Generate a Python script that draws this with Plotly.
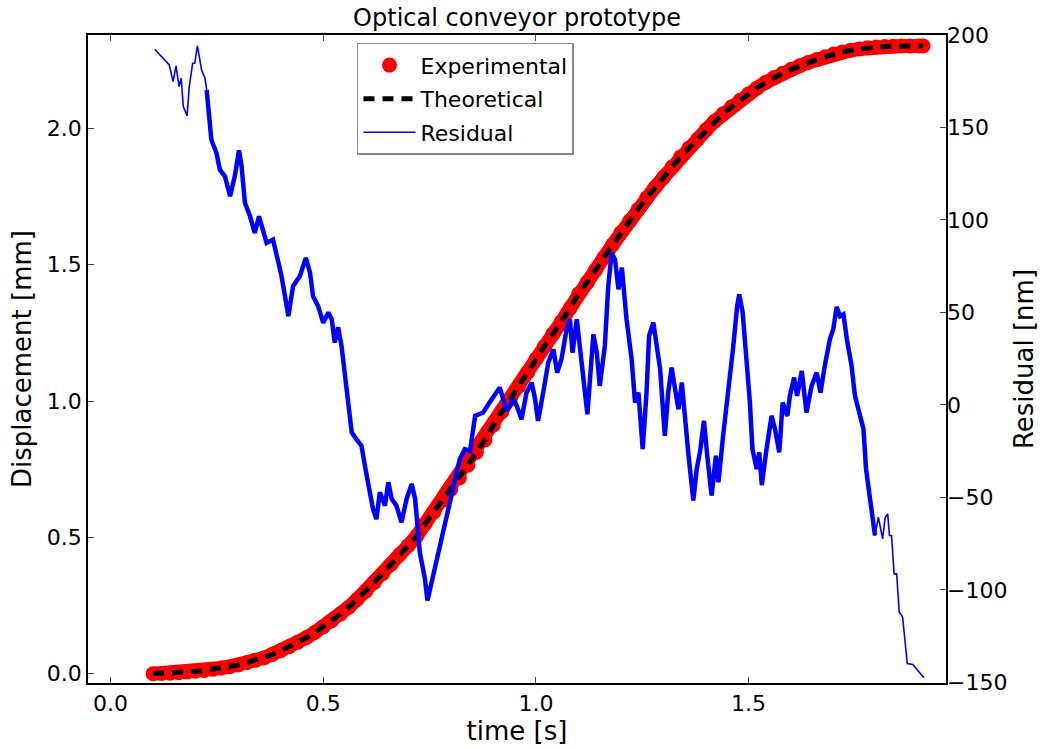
import numpy as np
import plotly.graph_objects as go

# ---- data ----
time_s = [0.10, 0.12, 0.14, 0.16, 0.18, 0.20, 0.22, 0.24, 0.26, 0.28,
          0.30, 0.32, 0.34, 0.36, 0.38, 0.40, 0.42, 0.44, 0.46, 0.48,
          0.50, 0.52, 0.54, 0.56, 0.58, 0.60, 0.62, 0.64, 0.66, 0.68,
          0.70, 0.72, 0.74, 0.76, 0.78, 0.80, 0.82, 0.84, 0.86, 0.88,
          0.90, 0.92, 0.94, 0.96, 0.98, 1.00, 1.02, 1.04, 1.06, 1.08,
          1.10, 1.12, 1.14, 1.16, 1.18, 1.20, 1.22, 1.24, 1.26, 1.28,
          1.30, 1.32, 1.34, 1.36, 1.38, 1.40, 1.42, 1.44, 1.46, 1.48,
          1.50, 1.52, 1.54, 1.56, 1.58, 1.60, 1.62, 1.64, 1.66, 1.68,
          1.70, 1.72, 1.74, 1.76, 1.78, 1.80, 1.82, 1.84, 1.86, 1.88,
          1.90, 1.91]
experimental_mm = [0.000, 0.001, 0.002, 0.004, 0.006, 0.009, 0.012, 0.016, 0.021, 0.026,
                   0.032, 0.040, 0.049, 0.058, 0.071, 0.084, 0.099, 0.115, 0.132, 0.151,
                   0.172, 0.194, 0.218, 0.244, 0.273, 0.303, 0.335, 0.368, 0.402, 0.437,
                   0.470, 0.505, 0.551, 0.593, 0.635, 0.676, 0.718, 0.765, 0.811, 0.857,
                   0.912, 0.961, 1.007, 1.055, 1.104, 1.153, 1.200, 1.246, 1.291, 1.340,
                   1.392, 1.434, 1.480, 1.527, 1.573, 1.618, 1.660, 1.703, 1.744, 1.783,
                   1.820, 1.858, 1.895, 1.928, 1.960, 1.994, 2.026, 2.053, 2.079, 2.103,
                   2.126, 2.148, 2.168, 2.186, 2.202, 2.216, 2.229, 2.241, 2.252, 2.262,
                   2.272, 2.280, 2.286, 2.291, 2.295, 2.298, 2.300, 2.301, 2.302, 2.302,
                   2.302, 2.302]
theoretical_mm = list(experimental_mm)

resid_t = [0.104, 0.138, 0.147, 0.154, 0.161, 0.166, 0.171, 0.180, 0.185, 0.193,
           0.198, 0.204, 0.208, 0.214, 0.222, 0.226, 0.232, 0.237, 0.249, 0.257,
           0.269, 0.281, 0.292, 0.302, 0.308, 0.316, 0.328, 0.339, 0.349, 0.359,
           0.367, 0.382, 0.390, 0.402, 0.418, 0.429, 0.445, 0.459, 0.469, 0.476,
           0.488, 0.500, 0.512, 0.520, 0.527, 0.535, 0.543, 0.551, 0.559, 0.567,
           0.578, 0.590, 0.598, 0.606, 0.617, 0.625, 0.633, 0.645, 0.653, 0.661,
           0.672, 0.684, 0.696, 0.708, 0.716, 0.727, 0.739, 0.745, 0.755, 0.767,
           0.782, 0.798, 0.814, 0.821, 0.833, 0.845, 0.857, 0.876, 0.891, 0.907,
           0.915, 0.931, 0.947, 0.955, 0.966, 0.978, 0.990, 0.998, 1.005, 1.017,
           1.029, 1.041, 1.050, 1.060, 1.072, 1.080, 1.086, 1.096, 1.107, 1.121,
           1.135, 1.143, 1.150, 1.162, 1.170, 1.178, 1.186, 1.194, 1.202, 1.213,
           1.225, 1.233, 1.241, 1.251, 1.260, 1.266, 1.276, 1.284, 1.292, 1.303,
           1.311, 1.319, 1.327, 1.335, 1.343, 1.350, 1.358, 1.370, 1.378, 1.386,
           1.395, 1.403, 1.413, 1.423, 1.429, 1.440, 1.452, 1.464, 1.473, 1.478,
           1.486, 1.495, 1.503, 1.509, 1.519, 1.525, 1.531, 1.542, 1.554, 1.562,
           1.572, 1.580, 1.591, 1.597, 1.607, 1.614, 1.625, 1.636, 1.648, 1.660,
           1.669, 1.679, 1.691, 1.699, 1.707, 1.715, 1.723, 1.731, 1.742, 1.750,
           1.760, 1.770, 1.776, 1.785, 1.792, 1.797, 1.805, 1.815, 1.821, 1.827,
           1.831, 1.836, 1.842, 1.848, 1.854, 1.862, 1.873, 1.886, 1.912]
resid_nm = [192.3, 183.8, 174.8, 183.3, 172.1, 176.6, 161.3, 156.3, 172.1, 184.7,
            184.7, 194.1, 189.2, 181.1, 176.6, 170.3, 154.2, 143.4, 136.2, 127.2,
            123.6, 112.8, 123.6, 137.6, 129.0, 109.2, 102.0, 93.0, 102.0, 94.8,
            87.6, 89.4, 80.4, 69.6, 48.0, 64.2, 69.6, 79.5, 71.5, 58.8,
            53.4, 44.4, 50.0, 46.3, 33.7, 42.0, 31.9, 17.5, 3.1, -14.9,
            -18.5, -22.1, -32.9, -43.7, -56.3, -61.7, -47.2, -54.4, -41.8, -50.8,
            -54.4, -63.4, -50.8, -42.7, -50.8, -79.6, -94.0, -105.7, -95.8, -83.2,
            -68.8, -54.4, -36.4, -29.2, -23.9, -25.0, -5.9, -4.1, 1.3, 6.7,
            9.4, -3.0, 3.1, -0.5, -7.7, 6.7, 12.1, 3.1, -8.6, 6.7,
            22.9, 30.1, 17.5, 24.7, 40.9, 46.3, 28.3, 46.3, 24.7, -5.0,
            38.2, 28.3, 10.3, 31.9, 64.2, 82.2, 78.6, 62.5, 74.2, 46.3,
            24.7, 1.3, 6.7, -23.9, 6.7, 37.3, 44.5, 31.9, 19.3, -16.7,
            6.7, 20.2, 10.3, -2.3, 12.1, -7.7, -25.6, -51.7, -34.6, -25.0,
            -8.6, -28.0, -49.0, -27.5, -41.8, -16.7, 6.7, 31.9, 53.4, 59.8,
            49.9, 24.7, 1.3, -23.9, -34.6, -25.6, -43.3, -23.9, -5.9, -13.1,
            -25.6, 1.3, -5.9, 4.9, 14.8, 4.9, 18.4, -4.1, 10.3, 17.5,
            6.7, 21.1, 35.5, 40.9, 53.0, 48.0, 49.0, 35.5, 21.1, 4.9,
            -4.1, -13.1, -34.6, -49.0, -63.4, -70.6, -60.7, -72.4, -60.7, -58.9,
            -70.6, -70.6, -91.3, -91.3, -111.9, -114.6, -139.8, -140.3, -147.5]

x_ticks = [0.0, 0.5, 1.0, 1.5]
y_ticks = [0.0, 0.5, 1.0, 1.5, 2.0]
y2_ticks = [-150, -100, -50, 0, 50, 100, 150, 200]

FONT = "DejaVu Sans"
FS = 22

rt = np.array(resid_t)
rn = np.array(resid_nm)
thick = (rt >= 0.225) & (rt <= 1.80)

fig = go.Figure()

fig.add_trace(go.Scatter(x=time_s, y=experimental_mm, mode="lines",
                         line=dict(color="red", width=14), showlegend=False,
                         hoverinfo="skip"))
fig.add_trace(go.Scatter(x=time_s, y=experimental_mm, mode="markers",
                         marker=dict(color="red", size=15, line=dict(width=0)),
                         name="Experimental", legendgroup="a"))
fig.add_trace(go.Scatter(x=time_s, y=theoretical_mm, mode="lines",
                         line=dict(color="black", width=5, dash="11px,8px"),
                         name="Theoretical", legendgroup="b"))
fig.add_trace(go.Scatter(x=resid_t, y=resid_nm, mode="lines", yaxis="y2",
                         line=dict(color="blue", width=1.6),
                         name="Residual", legendgroup="c"))
fig.add_trace(go.Scatter(x=rt[thick], y=rn[thick], mode="lines", yaxis="y2",
                         line=dict(color="blue", width=4.5), showlegend=False,
                         hoverinfo="skip"))

axis_common = dict(ticks="inside", ticklen=6, tickcolor="#444", tickwidth=1,
                   showgrid=False, zeroline=False,
                   tickfont=dict(family=FONT, size=FS, color="black"))

fig.update_layout(
    width=1056, height=749,
    margin=dict(l=88, r=110, t=35, b=66),
    paper_bgcolor="white", plot_bgcolor="white",
    font=dict(family=FONT, size=FS, color="black"),
    title=dict(text="Optical conveyor prototype", x=0.5, xref="paper",
               xanchor="center", y=0.977, yanchor="middle",
               font=dict(family=FONT, size=24)),
    xaxis=dict(range=[-0.053, 1.964], tickvals=x_ticks, tickformat=".1f",
               showline=True, linecolor="black", linewidth=1.5, mirror="ticks",
               title=dict(text="time [s]", standoff=4), **axis_common),
    yaxis=dict(range=[-0.034, 2.342], tickvals=y_ticks, tickformat=".1f",
               showline=True, linecolor="black", linewidth=1.5, mirror=True,
               title=dict(text="Displacement [mm]", standoff=8), **axis_common),
    yaxis2=dict(range=[-150.3, 200], tickvals=y2_ticks, overlaying="y",
                side="right", showline=False,
                title=dict(text="Residual [nm]", standoff=8), **axis_common),
    legend=dict(x=0.3135, y=0.988, xanchor="left", yanchor="top",
                bordercolor="#888", borderwidth=1.5, bgcolor="white",
                font=dict(family=FONT, size=FS), tracegroupgap=2,
                itemwidth=52, traceorder="grouped"),
    showlegend=True,
)

fig.write_html("out.html")
